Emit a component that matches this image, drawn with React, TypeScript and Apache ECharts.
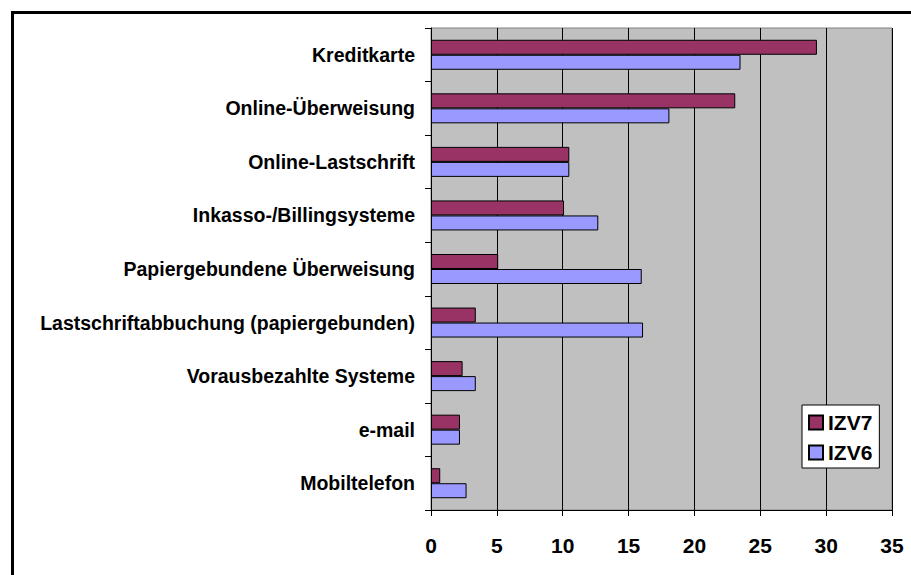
import React, { useEffect, useRef } from "react";
import * as echarts from "echarts";

const categories = [
  "Kreditkarte",
  "Online-Überweisung",
  "Online-Lastschrift",
  "Inkasso-/Billingsysteme",
  "Papiergebundene Überweisung",
  "Lastschriftabbuchung (papiergebunden)",
  "Vorausbezahlte Systeme",
  "e-mail",
  "Mobiltelefon",
];
const izv7 = [29.3, 23.1, 10.5, 10.1, 5.1, 3.4, 2.4, 2.2, 0.7];
const izv6 = [23.5, 18.1, 10.5, 12.7, 16.0, 16.1, 3.4, 2.2, 2.7];
const seriesNames = ["IZV7", "IZV6"];
const xTicks = { min: 0, max: 35, interval: 5 };

const FONT = "'Liberation Sans', Arial, sans-serif";

export default function App() {
  const ref = useRef<HTMLDivElement>(null);
  useEffect(() => {
    if (!ref.current) return;
    const chart = echarts.init(ref.current, null, { renderer: "svg" });
    chart.setOption({
      animation: false,
      backgroundColor: "#ffffff",
      textStyle: { fontFamily: FONT },
      grid: {
        left: 431,
        right: 19,
        top: 28,
        bottom: 65,
        show: true,
        backgroundColor: "#C0C0C0",
        borderColor: "#808080",
        borderWidth: 1,
      },
      legend: {
        data: seriesNames,
        orient: "vertical",
        left: 802,
        top: 405,
        backgroundColor: "#ffffff",
        borderColor: "#000000",
        borderWidth: 1,
        borderRadius: 0,
        padding: [7, 7, 5, 6],
        itemWidth: 14,
        itemHeight: 14,
        itemGap: 9,
        itemTextGap: 4,
        icon: "rect",
        textStyle: {
          fontFamily: FONT,
          fontWeight: "bold",
          fontSize: 21,
          lineHeight: 21,
          color: "#000",
        },
      },
      xAxis: {
        type: "value",
        min: xTicks.min,
        max: xTicks.max,
        interval: xTicks.interval,
        axisLine: { show: true, lineStyle: { color: "#000", width: 1 } },
        axisTick: { show: true, length: 6, lineStyle: { color: "#000" } },
        axisLabel: {
          margin: 25,
          color: "#000",
          fontFamily: FONT,
          fontWeight: "bold",
          fontSize: 21,
        },
        splitLine: { show: true, lineStyle: { color: "#000", width: 1 } },
      },
      yAxis: {
        type: "category",
        data: categories,
        inverse: true,
        axisLine: { show: true, lineStyle: { color: "#000", width: 1 } },
        axisTick: { show: true, length: 6, lineStyle: { color: "#000" } },
        axisLabel: {
          margin: 16,
          color: "#000",
          fontFamily: FONT,
          fontWeight: "bold",
          fontSize: 19.5,
        },
        splitLine: { show: false },
      },
      series: [
        {
          name: seriesNames[0],
          type: "bar",
          data: izv7,
          barWidth: 15,
          barGap: "0%",
          itemStyle: { color: "#993366", borderColor: "#000", borderWidth: 1 },
        },
        {
          name: seriesNames[1],
          type: "bar",
          data: izv6,
          barWidth: 15,
          barGap: "0%",
          itemStyle: { color: "#9999FF", borderColor: "#000", borderWidth: 1 },
        },
      ],
      graphic: [
        {
          type: "polyline",
          shape: {
            points: [
              [12.5, 580],
              [12.5, 12.5],
              [920, 12.5],
            ],
          },
          style: { fill: "none", stroke: "#000", lineWidth: 3 },
          silent: true,
          z: 100,
        },
      ],
    });
    return () => chart.dispose();
  }, []);
  return (
    <div
      ref={ref}
      style={{ position: "fixed", left: 0, top: 0, width: 911, height: 575 }}
    />
  );
}
